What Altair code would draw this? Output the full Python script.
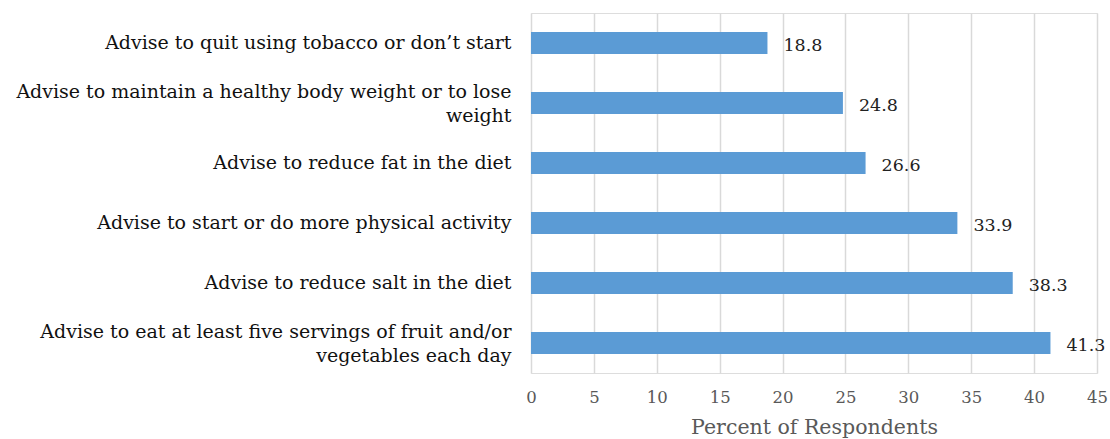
import altair as alt
import pandas as pd

categories = [
    "Advise to quit using tobacco or don\u2019t start",
    "Advise to maintain a healthy body weight or to lose\nweight",
    "Advise to reduce fat in the diet",
    "Advise to start or do more physical activity",
    "Advise to reduce salt in the diet",
    "Advise to eat at least five servings of fruit and/or\nvegetables each day",
]
values = [18.8, 24.8, 26.6, 33.9, 38.3, 41.3]
x_ticks = [0, 5, 10, 15, 20, 25, 30, 35, 40, 45]

df = pd.DataFrame({"cat": categories, "val": values})

FONT = "DejaVu Serif"

y_enc = alt.Y(
    "cat:N",
    sort=categories,
    title=None,
    scale=alt.Scale(paddingInner=0.633, paddingOuter=0.317),
    axis=alt.Axis(
        labelExpr="split(datum.label, '\\n')",
        labelFont=FONT,
        labelFontSize=19,
        labelColor="#111111",
        labelLineHeight=24,
        labelPadding=20,
        labelLimit=600,
        labelOffset={"condition": {"test": "indexof(datum.value, '\\n') >= 0", "value": -11}, "value": 0},
        ticks=False,
        domain=False,
    ),
)

x_enc = alt.X(
    "val:Q",
    scale=alt.Scale(domain=[0, 45], nice=False),
    title="Percent of Respondents",
    axis=alt.Axis(
        values=x_ticks,
        labelFont=FONT,
        labelFontSize=16.5,
        labelColor="#595959",
        labelPadding=16,
        labelFlush=False,
        titleFont=FONT,
        titleFontSize=20.5,
        titleFontWeight="normal",
        titleColor="#595959",
        titlePadding=12,
        ticks=False,
        domain=False,
        grid=True,
        gridColor="#d9d9d9",
        gridWidth=1.5,
    ),
)

bars = alt.Chart(df).mark_bar(color="#5B9BD5").encode(x=x_enc, y=y_enc)

labels = alt.Chart(df).mark_text(
    align="left", baseline="middle", dx=16, dy=3, font=FONT, fontSize=17.5, color="#222222"
).encode(
    x=alt.X("val:Q"),
    y=alt.Y("cat:N", sort=categories),
    text=alt.Text("val:Q", format=".1f"),
)

chart = (
    alt.layer(bars, labels)
    .properties(
        width=566,
        height=360,
        autosize=alt.AutoSizeParams(type="none"),
        padding={"left": 531, "top": 13, "right": 13, "bottom": 66},
    )
    .configure_view(stroke=None)
    .configure(background="white")
)

chart.save("out.html", embed_options={"renderer": "svg", "actions": False})
